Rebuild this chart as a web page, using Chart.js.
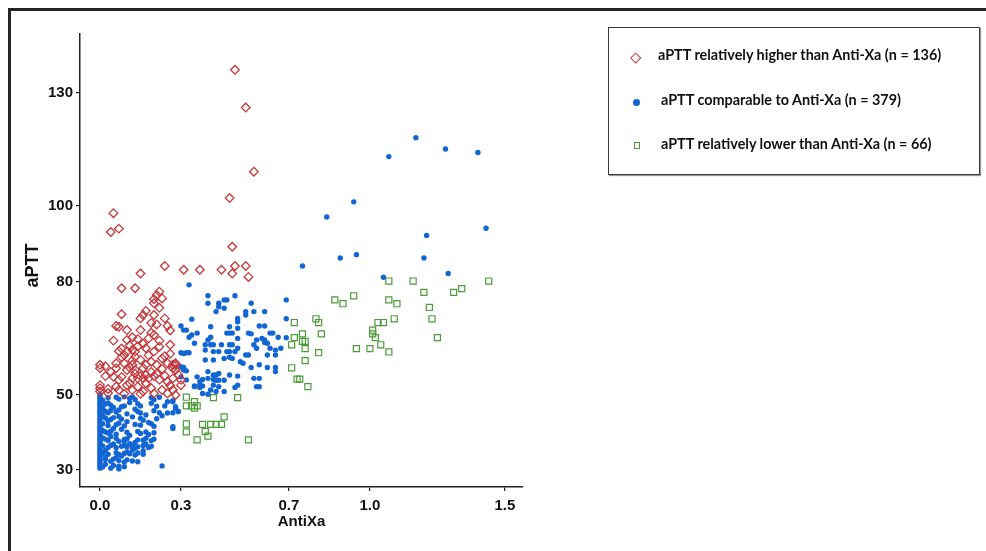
<!DOCTYPE html>
<html>
<head>
<meta charset="utf-8">
<script src="https://cdn.jsdelivr.net/npm/chart.js@4.4.1/dist/chart.umd.min.js"></script>
<style>
  html, body { margin: 0; padding: 0; background: #fff; }
  #wrap { position: relative; width: 986px; height: 551px; overflow: hidden; }
  #myChart { position: absolute; left: 0; top: 0; }
  #frame { position: absolute; left: 8px; top: 8px; width: 1200px; height: 800px;
           border-left: 3px solid #262626; border-top: 3px solid #262626; pointer-events: none; }
  #legend { position: absolute; left: 608px; top: 27px; width: 372px; height: 148px; box-sizing: border-box;
            border: 1.5px solid #3a3a3a; background: #fff; box-shadow: 1px 1px 1px #999; }
  #legend .row { position: absolute; white-space: nowrap; font-family: Lato, "Open Sans", sans-serif;
                 font-weight: bold; font-size: 14.4px; line-height: 16px; color: #111; }
  #legend .mk { position: absolute; box-sizing: border-box; }
</style>
</head>
<body>
<div id="wrap">
  <canvas id="myChart" width="986" height="551"></canvas>
  <div id="frame"></div>
  <div id="legend">
    <div class="mk" style="left:23px;top:26px;width:7.5px;height:7.5px;border:1.5px solid #c4393c;transform:rotate(45deg);"></div>
    <div class="row" style="left:49px;top:19px;">aPTT relatively higher than Anti-Xa (n = 136)</div>
    <div class="mk" style="left:23.5px;top:70.5px;width:7px;height:7px;border-radius:50%;background:#1266d4;"></div>
    <div class="row" style="left:52px;top:64px;">aPTT comparable to Anti-Xa (n = 379)</div>
    <div class="mk" style="left:24.5px;top:114px;width:6.5px;height:6.5px;border:1.3px solid #4c9a3a;"></div>
    <div class="row" style="left:52px;top:108px;">aPTT relatively lower than Anti-Xa (n = 66)</div>
  </div>
</div>
<script>
// tick values
var xTicks = [0.0, 0.3, 0.7, 1.0, 1.5]
var yTicks = [30, 50, 80, 100, 130]

// aPTT relatively higher than Anti-Xa  [AntiXa, aPTT]
var higherPts = [
  [0.50,136.1],[0.54,126.1],[0.57,109.1],[0.48,102.1],[0.05,98.1],[0.04,93.1],[0.07,94.0],[0.49,89.2],
  [0.15,82.1],[0.24,84.1],[0.31,83.1],[0.37,83.1],[0.45,83.1],[0.50,84.1],[0.54,84.1],[0.49,82.1],[0.55,81.2],
  [0.08,78.2],[0.13,78.2],[0.22,77.3],[0.21,76.4],[0.20,75.3],[0.20,74.2],[0.08,71.3],[0.17,72.2],[0.16,71.1],
  [0.20,71.1],[0.15,70.2],[0.24,70.2],[0.06,68.2],[0.07,68.0],[0.25,68.2],[0.26,67.0],[0.10,67.1],[0.15,67.1],
  [0.19,66.4],[0.05,64.3],[0.10,64.5],[0.12,65.2],[0.14,64.7],[0.20,65.8],[0.22,64.3],[0.26,63.2],[0.07,61.5],
  [0.08,62.2],[0.10,61.4],[0.12,61.8],[0.13,61.4],[0.17,62.3],[0.20,61.4],[0.22,62.7],[0.24,60.2],[0.00,57.9],
  [0.00,57.0],[0.06,58.3],[0.06,57.0],[0.09,58.3],[0.11,57.2],[0.12,57.9],[0.13,56.5],[0.10,56.5],[0.15,59.2],
  [0.17,57.9],[0.19,58.7],[0.21,57.9],[0.23,59.6],[0.25,58.3],[0.27,57.9],[0.28,58.3],[0.27,57.0],[0.02,54.9],
  [0.05,54.7],[0.07,53.9],[0.08,54.7],[0.12,54.3],[0.14,54.3],[0.16,54.3],[0.18,54.3],[0.17,55.2],[0.15,54.9],
  [0.20,54.9],[0.22,53.9],[0.25,53.4],[0.27,54.3],[0.00,52.5],[0.00,51.7],[0.00,50.8],[0.06,52.1],[0.07,51.2],
  [0.10,52.5],[0.12,51.2],[0.14,52.1],[0.16,50.8],[0.19,51.7],[0.20,50.3],[0.23,51.2],[0.25,50.3],[0.27,51.2],
  [0.28,49.9],[0.28,57.9],[0.28,56.5],[0.30,53.9],[0.30,52.5],[0.03,50.4],[0.04,56.0],[0.08,59.9],[0.09,60.5],
  [0.11,63.0],[0.13,60.0],[0.14,62.8],[0.16,63.5],[0.18,60.4],[0.18,64.9],[0.19,69.0],[0.21,68.6],[0.22,73.0],
  [0.23,75.5],[0.11,53.0],[0.13,55.6],[0.15,50.2],[0.17,53.0],[0.19,56.0],[0.21,55.5],[0.23,56.8],[0.24,55.0],
  [0.26,52.4],[0.29,55.3],[0.03,51.5],[0.09,50.2],[0.12,59.0],[0.16,57.0],[0.26,60.8],[0.02,57.5]
]

// aPTT comparable to Anti-Xa
var comparablePts = [
  [0.84,97.1],[0.75,84.1],[1.17,118.1],[1.28,115.1],[1.40,114.2],[1.07,113.1],[0.94,101.1],[1.43,94.1],
  [1.21,92.2],[0.89,86.2],[0.95,87.1],[1.20,86.2],[1.29,82.1],[1.05,81.1],[0.69,75.1],[0.69,70.1],[0.69,65.1],
  [0.33,79.1],[0.40,76.2],[0.50,76.2],[0.46,75.1],[0.47,75.1],[0.40,74.2],[0.44,74.2],[0.44,73.3],[0.56,74.2],
  [0.43,72.0],[0.46,72.9],[0.54,72.0],[0.54,71.1],[0.57,72.0],[0.61,72.0],[0.51,70.2],[0.51,69.3],[0.34,70.0],
  [0.59,68.2],[0.61,68.2],[0.30,68.2],[0.41,68.0],[0.48,68.0],[0.51,67.6],[0.32,67.1],[0.36,66.3],[0.55,66.3],
  [0.56,66.1],[0.63,66.3],[0.64,66.3],[0.47,66.3],[0.48,66.3],[0.49,66.3],[0.33,65.2],[0.40,64.5],[0.41,65.2],
  [0.51,64.9],[0.58,64.5],[0.60,64.9],[0.61,64.5],[0.61,63.8],[0.62,63.6],[0.66,65.2],[0.35,63.6],[0.39,63.2],
  [0.41,63.2],[0.42,63.2],[0.45,63.2],[0.48,63.2],[0.49,63.2],[0.57,63.2],[0.58,62.3],[0.63,62.3],[0.65,61.8],
  [0.67,62.3],[0.30,61.1],[0.32,61.1],[0.33,61.1],[0.39,61.8],[0.42,61.4],[0.44,61.4],[0.47,61.4],[0.48,61.4],
  [0.50,61.4],[0.51,62.3],[0.54,60.5],[0.55,60.5],[0.62,60.5],[0.65,60.5],[0.39,59.2],[0.42,59.2],[0.46,59.6],
  [0.48,59.9],[0.49,59.6],[0.52,58.7],[0.53,58.3],[0.56,57.2],[0.59,57.9],[0.62,57.2],[0.65,57.2],[0.65,56.1],
  [0.31,57.2],[0.32,56.3],[0.40,56.1],[0.42,55.2],[0.43,55.2],[0.44,55.6],[0.48,55.2],[0.51,54.9],[0.57,54.3],
  [0.59,54.3],[0.36,54.7],[0.38,54.0],[0.40,54.3],[0.42,54.0],[0.43,53.8],[0.44,53.8],[0.46,53.8],[0.35,52.3],
  [0.38,52.3],[0.42,52.5],[0.44,52.1],[0.41,51.2],[0.43,50.8],[0.46,50.8],[0.50,51.9],[0.58,52.1],[0.59,52.1],
  [0.27,48.1],[0.28,46.8],[0.29,45.5],[0.27,45.2],[0.27,41.5],[0.32,53.9],[0.37,52.5],[0.37,51.9],[0.38,50.3],
  [0.40,50.1],[0.51,52.5],[0.31,67.1],[0.34,65.8],[0.31,60.9],[0.30,57.4],[0.31,56.5],[0.30,54.7],[0.37,53.4],
  [0.35,52.1],
  [0.00,30.5],[0.00,31.0],[0.00,31.5],[0.00,32.0],[0.00,32.5],[0.00,33.0],[0.00,33.5],[0.00,34.0],[0.00,34.5],
  [0.00,35.0],[0.00,35.5],[0.00,36.0],[0.00,36.5],[0.00,37.0],[0.00,37.5],[0.00,38.0],[0.00,38.5],[0.00,39.0],
  [0.00,39.5],[0.00,40.0],[0.00,40.5],[0.00,41.0],[0.00,41.5],[0.00,42.0],[0.00,42.5],[0.00,43.0],[0.00,43.5],
  [0.00,44.0],[0.00,44.5],[0.00,45.0],[0.00,45.5],[0.00,46.0],[0.00,46.5],[0.00,47.0],[0.00,47.5],[0.00,48.0],
  [0.00,48.5],[0.00,49.0],[0.00,49.5],[0.00,50.0],
  [0.06,49.3],[0.07,48.8],[0.09,49.4],[0.11,49.0],[0.12,49.4],[0.13,48.7],[0.19,49.2],[0.20,48.6],[0.22,49.3],
  [0.25,48.1],[0.27,48.4],[0.28,46.4],[0.29,45.5],
  [0.02,47.5],[0.03,47.8],[0.04,47.2],[0.14,47.6],[0.15,47.0],
  [0.02,45.6],[0.03,45.2],[0.04,45.8],[0.06,45.4],[0.07,45.9],[0.14,45.5],[0.15,45.1],[0.20,45.7],[0.22,45.2],
  [0.02,43.8],[0.04,43.4],[0.05,43.9],[0.08,43.5],[0.15,43.7],[0.16,43.2],[0.21,43.6],
  [0.01,42.3],[0.03,41.8],[0.06,42.0],[0.07,42.4],[0.09,41.7],[0.13,42.1],[0.15,41.9],[0.19,42.3],[0.20,41.6],[0.27,41.0],
  [0.02,40.1],[0.03,39.8],[0.04,40.3],[0.10,40.0],[0.14,40.2],[0.15,39.7],[0.17,40.1],[0.20,39.9],
  [0.02,38.2],[0.03,37.8],[0.06,38.4],[0.07,37.6],[0.09,38.1],[0.09,37.7],[0.10,38.3],[0.14,38.0],[0.16,37.9],
  [0.17,38.4],[0.19,37.8],[0.20,38.2],
  [0.01,36.4],[0.03,36.0],[0.04,36.5],[0.06,35.9],[0.08,36.3],[0.09,36.6],[0.10,36.1],[0.12,36.4],[0.13,35.8],
  [0.14,36.2],[0.16,36.5],[0.18,36.0],[0.19,36.3],
  [0.01,34.5],[0.03,34.2],[0.06,34.6],[0.07,34.1],[0.09,34.4],[0.10,34.8],[0.11,34.3],[0.13,34.0],[0.14,34.5],[0.16,34.2],
  [0.02,32.8],[0.04,32.3],[0.05,32.9],[0.07,32.5],[0.09,32.1],[0.10,32.7],[0.12,32.4],[0.14,32.2],[0.23,31.1],
  [0.01,30.8],[0.04,30.5],[0.05,31.2],[0.07,30.3],[0.07,31.0],[0.09,30.9],
  [0.01,48.5],[0.01,46.5],[0.01,44.5],[0.01,40.5],[0.01,38.5],[0.02,35.2],[0.02,33.5],[0.02,31.5],[0.03,49.2],
  [0.03,43.0],[0.04,38.9],[0.05,41.0],[0.05,36.9],[0.05,46.6],[0.06,39.5],[0.06,33.3],[0.08,46.8],[0.08,40.8],
  [0.08,33.7],[0.10,44.9],[0.10,42.8],[0.11,37.0],[0.11,39.2],[0.12,44.1],[0.12,35.3],[0.13,37.3],[0.13,46.1],
  [0.16,35.1],[0.17,36.9],[0.18,39.4],[0.17,44.6],[0.18,42.6],[0.19,47.7],[0.21,46.9],[0.23,44.4],[0.24,47.0],
  [0.25,45.1],[0.11,47.9],[0.09,47.0],[0.07,44.2]
]

// aPTT relatively lower than Anti-Xa
var lowerPts = [
  [1.07,80.1],[1.16,80.1],[1.44,80.1],[1.20,77.1],[1.31,77.1],[1.34,78.1],[0.87,75.1],[0.90,74.1],[0.94,76.2],
  [1.07,75.1],[1.10,74.1],[1.22,73.1],[1.23,70.1],[1.09,70.1],[1.03,69.1],[1.05,69.1],[1.01,67.1],[1.01,66.1],
  [1.02,65.1],[1.04,63.2],[1.25,65.1],[0.95,62.2],[1.00,62.2],[0.72,69.1],[0.80,70.1],[0.81,69.1],[0.82,66.1],
  [0.75,66.1],[0.72,65.1],[0.75,64.1],[0.76,64.1],[0.71,63.2],[0.76,62.2],[0.81,61.1],[0.76,59.0],[0.71,57.1],
  [0.73,54.1],[0.74,54.1],[0.77,52.1],[0.32,49.3],[0.42,49.2],[0.51,49.2],[0.32,47.0],[0.35,48.1],[0.35,46.4],
  [0.36,47.0],[0.34,47.0],[0.46,44.1],[0.32,42.2],[0.32,40.1],[0.38,42.1],[0.41,42.1],[0.43,42.1],[0.45,42.1],
  [0.39,40.2],[0.40,39.0],[0.36,38.0],[0.55,38.0],[1.07,61.3]
]

function toXY(arr) {
  return arr.map(function (p) { return { x: p[0], y: p[1] } })
}

var tickFont = { family: 'Liberation Sans', size: 15, weight: 'bold' }

var myChart = document.getElementById('myChart').getContext('2d')
var scatter = new Chart(myChart, {
  type: 'scatter',
  data: {
    datasets: [{
      label: 'aPTT relatively higher than Anti-Xa (n = 136)',
      data: toXY(higherPts),
      pointStyle: 'rectRot',
      radius: 4.3,
      borderWidth: 1.3,
      borderColor: '#c4393c',
      backgroundColor: 'rgba(0,0,0,0)'
    }, {
      label: 'aPTT comparable to Anti-Xa (n = 379)',
      data: toXY(comparablePts),
      pointStyle: 'circle',
      radius: 2.7,
      borderWidth: 0,
      backgroundColor: '#1266d4'
    }, {
      label: 'aPTT relatively lower than Anti-Xa (n = 66)',
      data: toXY(lowerPts),
      pointStyle: 'rect',
      radius: 4.3,
      borderWidth: 1.2,
      borderColor: '#4c9a3a',
      backgroundColor: 'rgba(0,0,0,0)'
    }]
  },
  options: {
    responsive: false,
    animation: false,
    layout: { padding: { top: 34, right: 463, bottom: 0, left: 0 } },
    plugins: { legend: { display: false }, tooltip: { enabled: false } },
    scales: {
      x: {
        type: 'linear',
        min: -0.074,
        max: 1.567,
        afterBuildTicks: function (s) { s.ticks = xTicks.map(function (v) { return { value: v } }) },
        afterFit: function (s) { s.height = 64 },
        ticks: { callback: function (v) { return Number(v).toFixed(1) }, font: tickFont, color: '#111',
                 padding: 6, autoSkip: false, maxRotation: 0 },
        grid: { display: true, drawOnChartArea: false, drawTicks: true, tickLength: 4, color: '#222', lineWidth: 1.2 },
        border: { display: true, color: '#222', width: 1.5 },
        title: { display: true, text: 'AntiXa', color: '#111', font: { family: 'Liberation Sans', size: 15, weight: 'bold' },
                 padding: { top: 0, bottom: 20 } }
      },
      y: {
        type: 'linear',
        min: 25.5,
        max: 145.6,
        afterBuildTicks: function (s) { s.ticks = yTicks.map(function (v) { return { value: v } }) },
        afterFit: function (s) { s.width = 80 },
        ticks: { callback: function (v) { return String(v) }, font: tickFont, color: '#111', padding: 3, autoSkip: false },
        grid: { display: true, drawOnChartArea: false, drawTicks: true, tickLength: 4, color: '#222', lineWidth: 1.2 },
        border: { display: true, color: '#222', width: 1.5 },
        title: { display: true, text: 'aPTT  ', color: '#111', font: { family: 'Liberation Sans', size: 18, weight: 'bold' },
                 padding: { top: 22, bottom: 0 } }
      }
    }
  }
})
</script>
</body>
</html>
